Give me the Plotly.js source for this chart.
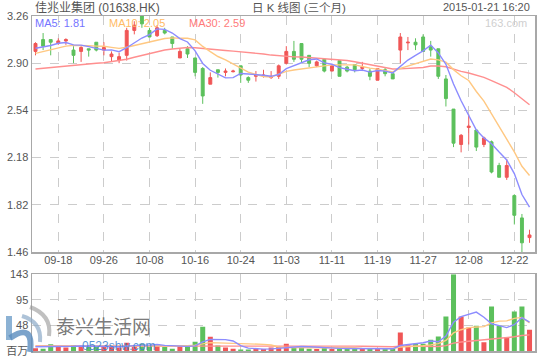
<!DOCTYPE html>
<html>
<head>
<meta charset="utf-8">
<script src="https://cdn.plot.ly/plotly-3.0.1.min.js"></script>
<style>html,body{margin:0;padding:0;background:#fff;}#chart{width:540px;height:360px;}</style>
</head>
<body>
<div id="chart"></div>
<script>
// ---- data ----
var dates = ['09-15','09-16','09-17','09-18','09-19','09-22','09-23','09-24','09-25','09-26',
 '09-29','09-30','10-03','10-06','10-07','10-08','10-09','10-10','10-13','10-14',
 '10-15','10-16','10-17','10-20','10-21','10-22','10-23','10-24','10-27','10-28',
 '10-29','10-30','10-31','11-03','11-04','11-05','11-06','11-07','11-10','11-11',
 '11-12','11-13','11-14','11-17','11-18','11-19','11-20','11-21','11-24','11-25',
 '11-26','11-27','11-28','12-01','12-02','12-03','12-04','12-08','12-09','12-10',
 '12-11','12-12','12-15','12-22','12-23','12-24'];
var tickLabels = ['09-18','09-26','10-08','10-16','10-24','11-03','11-11','11-19','11-27','12-08','12-22'];
var openP = [2.99,3.08,3.08,3.05,3.07,3.00,2.99,3.01,3.06,3.00, 2.95,2.92,2.96,3.15,3.26,3.15,3.11,3.15,3.10,2.94,
 3.01,2.94,2.86,2.74,2.85,2.83,2.835,2.88,2.79,2.80, 2.80,2.79,2.80,2.90,2.99,3.05,2.96,2.88,2.93,2.84,
 2.92,2.87,2.89,2.86,2.84,2.77,2.85,2.82,3.00,3.055, 3.06,3.10,3.03,3.01,2.78,2.55,2.28,2.41,2.39,2.28,
 2.30,2.12,2.03,1.89,1.72,1.57];
var highP = [3.06,3.13,3.08,3.09,3.09,3.03,3.03,3.01,3.06,3.06, 2.99,2.98,3.17,3.22,3.28,3.17,3.19,3.17,3.10,3.01,
 3.03,2.94,2.87,2.83,2.85,2.86,2.85,2.88,2.80,2.84, 2.85,2.84,2.89,3.03,3.07,3.05,2.96,2.92,2.93,2.89,
 2.92,2.88,2.89,2.91,2.86,2.86,2.87,2.82,3.13,3.10, 3.09,3.12,3.07,3.01,2.81,2.55,2.36,2.51,2.39,2.34,
 2.31,2.14,2.17,1.90,1.75,1.63];
var lowP = [2.96,3.00,2.96,3.04,3.04,2.90,2.91,2.95,2.99,2.96, 2.91,2.90,2.92,3.12,3.17,3.10,3.10,3.12,3.01,2.94,
 2.94,2.80,2.59,2.74,2.79,2.80,2.83,2.75,2.75,2.76, 2.79,2.78,2.78,2.89,2.91,2.90,2.87,2.87,2.83,2.84,
 2.80,2.83,2.83,2.84,2.77,2.77,2.80,2.78,2.90,3.00, 3.00,2.99,2.95,2.78,2.57,2.26,2.22,2.28,2.23,2.26,
 2.06,2.03,2.01,1.67,1.46,1.53];
var closeP = [3.05,3.03,3.06,3.07,3.08,2.96,3.02,3.00,3.00,3.02, 2.97,2.95,3.15,3.19,3.20,3.10,3.17,3.13,3.05,2.99,
 2.97,2.83,2.65,2.79,2.83,2.84,2.84,2.81,2.77,2.81, 2.81,2.80,2.88,2.99,2.93,2.93,2.90,2.91,2.84,2.88,
 2.80,2.84,2.85,2.87,2.80,2.86,2.82,2.78,3.10,3.06, 3.04,2.99,3.00,2.80,2.63,2.29,2.35,2.42,2.26,2.33,
 2.07,2.03,2.12,1.74,1.53,1.59];
var ma5 = [3.014,3.024,3.035,3.052,3.058,3.040,3.038,3.026,3.012,3.000, 3.002,2.988,3.018,3.056,3.092,3.118,3.162,3.158,3.130,3.088,
 3.062,2.994,2.898,2.846,2.814,2.788,2.790,2.822,2.818,2.814, 2.808,2.800,2.814,2.858,2.882,2.906,2.926,2.932,2.902,2.892,
 2.866,2.854,2.842,2.848,2.832,2.844,2.840,2.826,2.872,2.924, 2.960,2.994,3.038,2.978,2.892,2.742,2.614,2.498,2.390,2.330,
 2.286,2.222,2.162,2.058,1.898,1.802];
var ma10 = [2.975,2.990,3.005,3.018,3.030,3.036,3.036,3.033,3.030,3.029, 3.021,3.013,3.022,3.034,3.046,3.060,3.075,3.088,3.093,3.090,
 3.090,3.078,3.028,2.988,2.951,2.925,2.892,2.860,2.832,2.814, 2.798,2.795,2.818,2.838,2.848,2.857,2.863,2.873,2.880,2.887,
 2.886,2.890,2.887,2.875,2.862,2.855,2.847,2.834,2.860,2.878, 2.902,2.917,2.932,2.925,2.908,2.851,2.804,2.768,2.684,2.611,
 2.514,2.418,2.330,2.224,2.114,2.044];
var ma30 = [2.856,2.862,2.867,2.873,2.879,2.885,2.892,2.895,2.900,2.904, 2.911,2.921,2.930,2.945,2.960,2.975,2.989,3.001,3.008,3.014,
 3.020,3.018,3.014,3.008,3.003,2.997,2.992,2.987,2.982,2.978, 2.970,2.962,2.956,2.953,2.948,2.947,2.943,2.940,2.935,2.930,
 2.925,2.921,2.911,2.900,2.887,2.879,2.867,2.856,2.857,2.860, 2.862,2.867,2.879,2.879,2.873,2.854,2.838,2.825,2.808,2.792,
 2.767,2.742,2.716,2.675,2.628,2.583];
var volume = [5.0,4.4,12.4,9.4,6.3,11.3,7.6,9.4,7.6,7.6, 9.4,6.3,15.6,9.4,13.7,9.4,12.4,7.6,4.4,9.4,
 9.4,17.4,45.2,26.7,10.4,6.3,4.4,3.0,3.0,3.5, 3.5,6.7,8.1,13.7,6.9,6.9,4.4,3.9,6.9,3.9,
 5.0,3.9,3.9,3.9,3.9,4.4,3.9,4.4,34.6,10.6, 13.7,13.7,21.1,27.2,64.3,143,64.3,43.9,47.0,16.1,
 82.8,47.0,25.4,73.5,82.8,39.6];
var vma5 = [8.0,8.0,7.8,7.6,7.5,8.76,9.4,8.8,8.44,8.7, 8.32,8.06,9.3,9.66,10.88,10.88,12.1,10.5,9.5,8.64,
 8.64,9.64,17.16,21.62,21.82,21.2,18.6,10.16,5.42,4.04, 3.48,3.94,4.96,7.1,7.78,8.46,8.0,7.16,5.8,5.2,
 4.82,4.72,4.72,4.12,4.12,4.0,4.0,4.1,10.24,11.58, 13.44,15.4,18.74,17.26,28.0,53.86,63.98,68.54,72.5,62.86,
 50.82,47.36,43.66,48.96,62.3,53.66];
var vma10 = [9.0,9.0,9.0,8.8,8.6,8.5,8.4,8.3,8.2,8.1, 8.54,8.73,9.05,9.05,9.79,9.6,10.08,9.9,9.58,9.76,
 9.76,10.87,13.83,15.56,15.23,14.92,14.12,13.66,13.52,12.93, 12.34,11.27,7.56,6.26,5.91,5.97,5.97,6.06,6.45,6.49,
 6.64,6.36,5.94,4.96,4.66,4.41,4.36,4.41,7.18,7.85, 8.72,9.7,11.42,13.75,19.79,33.65,39.69,43.64,44.88,45.43,
 52.34,55.67,56.1,60.73,62.58,52.24];
var vma30 = [9.2,9.2,9.3,9.3,9.4,9.4,9.5,9.5,9.5,9.6, 9.6,9.6,9.7,9.7,9.8,9.8,9.8,9.9,9.9,9.9,
 10.0,10.1,10.3,10.4,10.4,10.4,10.3,10.3,10.3,10.26, 10.21,10.29,10.15,10.29,10.31,10.16,10.06,9.87,9.85,9.73,
 9.58,9.5,9.11,8.93,8.6,8.43,8.15,8.04,9.05,9.09, 9.23,9.11,8.31,8.32,10.12,14.68,16.67,18.04,19.5,19.92,
 22.57,23.91,24.49,26.48,29.01,30.1];
var priceTicks = [1.46,1.82,2.18,2.54,2.90,3.26];
var volTicks = [0,47.67,95.33,143];
var volTickText = ['百万','48','95','143'];
var titleText = '佳兆业集团 (01638.HK)';
var centerText = '日 K 线图 (三个月)';
var timeText = '2015-01-21 16:20';
var maLegend = ['MA5: 1.81','MA10: 2.05','MA30: 2.59'];

// ---- style ----
var RED = '#f05656', GREEN = '#5cc05c';
var C5 = '#8c8cff', C10 = '#ffc882', C30 = '#ff8f8f';
var FONT = 'Liberation Sans, Arial, Noto Sans CJK SC, sans-serif';
var GRID = '#cccccc', FRAME = '#a8a8a8', TXT = '#555555';

// pixel helpers for plot area (x 32..535, y 16..351)
function px(x){return (x-32)/503;}
function py(y){return (351-y)/335;}

var volColors = closeP.map(function(c,i){return c >= openP[i] ? RED : GREEN;});

var traces = [
 {type:'candlestick', x:dates, open:openP, high:highP, low:lowP, close:closeP,
  xaxis:'x', yaxis:'y', whiskerwidth:0, hoverinfo:'none',
  increasing:{line:{color:RED,width:1}, fillcolor:RED},
  decreasing:{line:{color:GREEN,width:1}, fillcolor:GREEN}},
 {type:'scatter', mode:'lines', x:dates, y:ma30, xaxis:'x', yaxis:'y', line:{color:C30,width:1.4}, hoverinfo:'none'},
 {type:'scatter', mode:'lines', x:dates, y:ma10, xaxis:'x', yaxis:'y', line:{color:C10,width:1.4}, hoverinfo:'none'},
 {type:'scatter', mode:'lines', x:dates, y:ma5, xaxis:'x', yaxis:'y', line:{color:C5,width:1.4}, hoverinfo:'none'},
 {type:'bar', x:dates, y:volume, xaxis:'x2', yaxis:'y2', marker:{color:volColors, line:{width:0}}, hoverinfo:'none'},
 {type:'scatter', mode:'lines', x:dates, y:vma30, xaxis:'x2', yaxis:'y2', line:{color:C30,width:1.4}, hoverinfo:'none'},
 {type:'scatter', mode:'lines', x:dates, y:vma10, xaxis:'x2', yaxis:'y2', line:{color:C10,width:1.4}, hoverinfo:'none'},
 {type:'scatter', mode:'lines', x:dates, y:vma5, xaxis:'x2', yaxis:'y2', line:{color:C5,width:1.4}, hoverinfo:'none'}
];

var xr = [-0.46, 65.72];
var axCommon = {showgrid:true, gridcolor:GRID, griddash:'dash', gridwidth:1, showline:true, linecolor:FRAME, linewidth:1.5,
  mirror:true, zeroline:false, ticks:'', tickfont:{family:FONT,size:11,color:TXT}, fixedrange:true};

var layout = {
 width:540, height:360, margin:{l:32,r:5,t:16,b:9,pad:0},
 paper_bgcolor:'#fff', plot_bgcolor:'#fff', showlegend:false,
 font:{family:FONT,size:11,color:TXT},
 boxgap:0.45, bargap:0.34,
 xaxis:Object.assign({}, axCommon, {type:'category', range:xr, anchor:'y', domain:[0,1],
   tickmode:'array', tickvals:tickLabels, ticktext:tickLabels, rangeslider:{visible:false}, ticklabelstandoff:-3}),
 yaxis:Object.assign({}, axCommon, {domain:[py(252),1], range:[1.46,3.26], anchor:'x',
   tickmode:'array', tickvals:priceTicks, ticktext:priceTicks.map(function(v){return v.toFixed(2);})}),
 xaxis2:Object.assign({}, axCommon, {type:'category', range:xr, anchor:'y2', domain:[0,1],
   tickmode:'array', tickvals:tickLabels, showticklabels:false}),
 yaxis2:Object.assign({}, axCommon, {domain:[0,py(274.3)], range:[0,143], anchor:'x2',
   tickmode:'array', tickvals:volTicks, ticktext:volTickText}),
 annotations:[
  {xref:'paper',yref:'paper',x:px(33),y:py(7),xanchor:'left',yanchor:'middle',text:titleText,showarrow:false,font:{family:FONT,size:12,color:'#555'}},
  {xref:'paper',yref:'paper',x:px(299),y:py(7),xanchor:'center',yanchor:'middle',text:centerText,showarrow:false,font:{family:FONT,size:11.5,color:'#555'}},
  {xref:'paper',yref:'paper',x:px(532),y:py(7),xanchor:'right',yanchor:'middle',text:timeText,showarrow:false,font:{family:FONT,size:11,color:'#555'}},
  {xref:'paper',yref:'paper',x:px(33),y:py(23),xanchor:'left',yanchor:'middle',text:maLegend[0],showarrow:false,font:{family:FONT,size:11,color:'#7474ff'}},
  {xref:'paper',yref:'paper',x:px(107),y:py(23),xanchor:'left',yanchor:'middle',text:maLegend[1],showarrow:false,font:{family:FONT,size:11,color:'#ffbb66'}},
  {xref:'paper',yref:'paper',x:px(187),y:py(23),xanchor:'left',yanchor:'middle',text:maLegend[2],showarrow:false,font:{family:FONT,size:11,color:'#ff7a7a'}},
  {xref:'paper',yref:'paper',x:px(529),y:py(23),xanchor:'right',yanchor:'middle',text:'163.com',showarrow:false,font:{family:FONT,size:11,color:'#cfcfcf'}},
  {xref:'paper',yref:'paper',x:px(54),y:py(325),xanchor:'left',yanchor:'middle',text:'泰兴生活网',showarrow:false,font:{family:'Noto Sans CJK SC, sans-serif',size:19,color:'rgba(105,105,105,0.9)'}},
  {xref:'paper',yref:'paper',x:px(80),y:py(346),xanchor:'left',yanchor:'middle',text:'0523shw.com',showarrow:false,font:{family:FONT,size:12,color:'rgba(60,130,205,0.85)'}}
 ],
 shapes:[
  {type:'path', xref:'paper', yref:'paper', layer:'above',
   path:'M'+px(9)+','+py(316)+' L'+px(9)+','+py(340),
   line:{color:'rgba(120,165,205,0.85)',width:6}},
  {type:'path', xref:'paper', yref:'paper', layer:'above',
   path:'M'+px(10)+','+py(338)+' Q'+px(34)+','+py(322)+' '+px(30)+','+py(352),
   line:{color:'rgba(90,140,190,0.8)',width:6}},
  {type:'path', xref:'paper', yref:'paper', layer:'above',
   path:'M'+px(22)+','+py(316)+' Q'+px(42)+','+py(322)+' '+px(40)+','+py(342),
   line:{color:'rgba(140,170,200,0.7)',width:4}},
  {type:'path', xref:'paper', yref:'paper', layer:'above',
   path:'M'+px(30)+','+py(307)+' Q'+px(52)+','+py(315)+' '+px(49)+','+py(336),
   line:{color:'rgba(150,150,150,0.6)',width:4}}
 ]
};

Plotly.newPlot('chart', traces, layout, {displayModeBar:false, staticPlot:true});
</script>
</body>
</html>
